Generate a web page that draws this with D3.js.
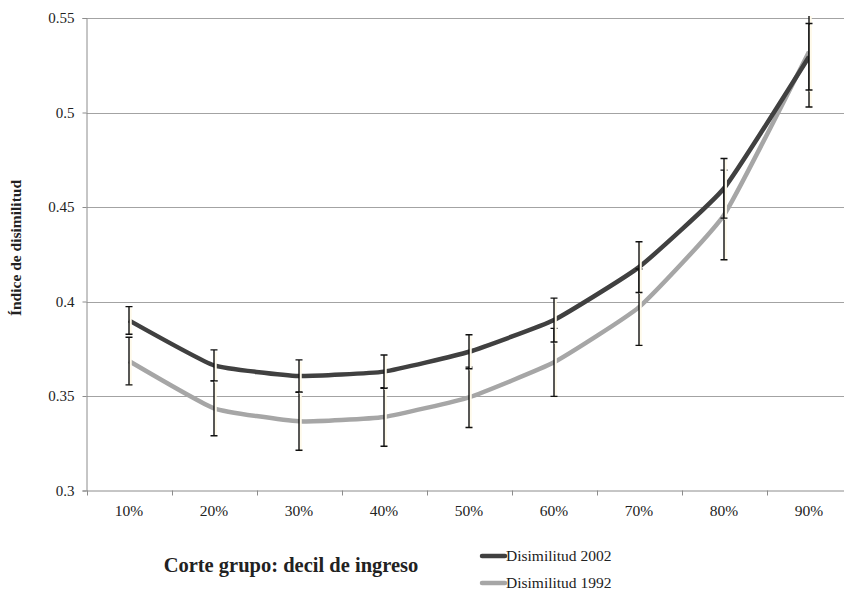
<!DOCTYPE html>
<html>
<head>
<meta charset="utf-8">
<script src="https://cdn.jsdelivr.net/npm/d3@7/dist/d3.min.js"></script>
<style>
  body { margin: 0; background: #fff; }
  text { font-family: "Liberation Serif", "DejaVu Serif", serif; fill: #222; }
</style>
</head>
<body>
<script>
var width = 844;
var height = 591;

// data
var deciles = ["10%", "20%", "30%", "40%", "50%", "60%", "70%", "80%", "90%"];
var dis2002 = [0.390, 0.3662, 0.3606, 0.3629, 0.3734, 0.3902, 0.4182, 0.4599, 0.5295];
var err2002 = [0.0073, 0.0082, 0.0085, 0.0088, 0.0090, 0.0116, 0.0134, 0.0158, 0.0176];
var dis1992 = [0.3685, 0.3435, 0.3366, 0.3389, 0.3493, 0.3678, 0.3970, 0.4458, 0.5322];
var err1992 = [0.0126, 0.0145, 0.0153, 0.0155, 0.0160, 0.0180, 0.0202, 0.0237, 0.0293];
var yTicks = [0.3, 0.35, 0.4, 0.45, 0.5, 0.55];
var seriesNames = ["Disimilitud 2002", "Disimilitud 1992"];
var seriesColors = ["#404040", "#a6a6a6"];

var plotLeft = 86.5, plotRight = 851.5, plotTop = 18, plotBottom = 490.5;

var svg = d3.select("body").append("svg")
    .attr("width", width)
    .attr("height", height);

var x = d3.scaleBand().domain(deciles).range([plotLeft, plotRight]);
var y = d3.scaleLinear().domain([0.3, 0.55]).range([plotBottom, plotTop]);

svg.append("defs").append("clipPath").attr("id", "plotclip")
    .append("rect")
    .attr("x", plotLeft).attr("y", plotTop - 2)
    .attr("width", plotRight - plotLeft).attr("height", plotBottom - plotTop + 2);

// gridlines
svg.append("g")
    .selectAll("line")
    .data(yTicks.slice(1))
    .enter().append("line")
    .attr("x1", plotLeft).attr("x2", plotRight)
    .attr("y1", function(d) { return Math.round(y(d)) + 0.5; })
    .attr("y2", function(d) { return Math.round(y(d)) + 0.5; })
    .attr("stroke", "#a3a3a3")
    .attr("stroke-width", 1);

// y axis
var yAxis = d3.axisLeft(y)
    .tickValues(yTicks)
    .tickSize(4)
    .tickPadding(8)
    .tickFormat(function(d) { return String(+d.toFixed(2)); });
var gy = svg.append("g").attr("transform", "translate(" + plotLeft + ",0)").call(yAxis);
gy.select(".domain").attr("stroke", "#8c8c8c");
gy.selectAll(".tick line").attr("stroke", "#8c8c8c");
gy.selectAll(".tick text").attr("font-size", 15).attr("fill", "#222")
    .attr("font-family", "Liberation Serif");

// x axis
var xAxis = d3.axisBottom(x).tickSize(0).tickPadding(14);
var gx = svg.append("g").attr("transform", "translate(0," + plotBottom + ")").call(xAxis);
gx.select(".domain").attr("stroke", "#8c8c8c");
gx.selectAll(".tick text").attr("font-size", 15.5).attr("fill", "#222")
    .attr("font-family", "Liberation Serif");
// tick marks between categories
gx.selectAll(".sep")
    .data(deciles)
    .enter().append("line")
    .attr("class", "sep")
    .attr("x1", function(d) { return Math.round(x(d)) + 0.5; })
    .attr("x2", function(d) { return Math.round(x(d)) + 0.5; })
    .attr("y1", 0).attr("y2", 5)
    .attr("stroke", "#8c8c8c");

var cx = function(i) { return x(deciles[i]) + x.bandwidth() / 2; };

// lines (light smoothing, like the spreadsheet's smoothed line)
var line = d3.line()
    .x(function(d, i) { return cx(i); })
    .y(function(d) { return y(d); })
    .curve(d3.curveCardinal.tension(0.6));

var plot = svg.append("g").attr("clip-path", "url(#plotclip)");

plot.append("path").datum(dis1992)
    .attr("d", line).attr("fill", "none")
    .attr("stroke", seriesColors[1]).attr("stroke-width", 4.5)
    .attr("stroke-linejoin", "round");
plot.append("path").datum(dis2002)
    .attr("d", line).attr("fill", "none")
    .attr("stroke", seriesColors[0]).attr("stroke-width", 4.5)
    .attr("stroke-linejoin", "round");

// error bars
function errorBars(vals, errs) {
    var g = plot.append("g");
    var rows = vals.map(function(v, i) { return { i: i, lo: v - errs[i], hi: v + errs[i] }; });
    // faint warm shadow
    g.selectAll(".glow").data(rows).enter().append("line")
        .attr("x1", function(d) { return cx(d.i) + 1.5; })
        .attr("x2", function(d) { return cx(d.i) + 1.5; })
        .attr("y1", function(d) { return y(d.hi) + 1.5; })
        .attr("y2", function(d) { return y(d.lo) + 1.5; })
        .attr("stroke", "#fffaea").attr("stroke-width", 2.5);
    g.selectAll(".bar").data(rows).enter().append("line")
        .attr("x1", function(d) { return cx(d.i); })
        .attr("x2", function(d) { return cx(d.i); })
        .attr("y1", function(d) { return y(d.hi); })
        .attr("y2", function(d) { return y(d.lo); })
        .attr("stroke", "#111").attr("stroke-width", 1.4);
    ["hi", "lo"].forEach(function(k) {
        g.selectAll(".cap-" + k).data(rows).enter().append("line")
            .attr("x1", function(d) { return cx(d.i) - 3.5; })
            .attr("x2", function(d) { return cx(d.i) + 3.5; })
            .attr("y1", function(d) { return y(d[k]); })
            .attr("y2", function(d) { return y(d[k]); })
            .attr("stroke", "#111").attr("stroke-width", 1.4);
    });
}
errorBars(dis1992, err1992);
errorBars(dis2002, err2002);

// axis titles
svg.append("text")
    .attr("transform", "translate(21,248) rotate(-90)")
    .attr("text-anchor", "middle")
    .attr("font-size", 15.5).attr("font-weight", "bold")
    .text("Índice de disimilitud");

svg.append("text")
    .attr("x", 291).attr("y", 572)
    .attr("text-anchor", "middle")
    .attr("font-size", 20.5).attr("font-weight", "bold")
    .text("Corte grupo: decil de ingreso");

// legend
var legend = svg.append("g");
seriesNames.forEach(function(name, i) {
    var ly = 556 + i * 27;
    legend.append("line")
        .attr("x1", 482).attr("x2", 505)
        .attr("y1", ly).attr("y2", ly)
        .attr("stroke", seriesColors[i]).attr("stroke-width", 4.5)
        .attr("stroke-linecap", "round");
    legend.append("text")
        .attr("x", 506).attr("y", ly + 5)
        .attr("font-size", 15.5)
        .text(name);
});
</script>
</body>
</html>
